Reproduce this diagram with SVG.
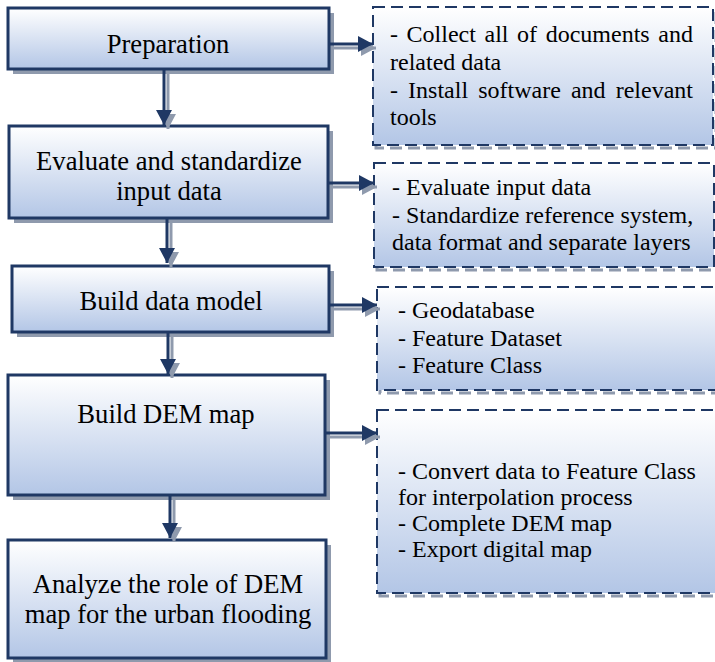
<svg xmlns="http://www.w3.org/2000/svg" width="715" height="662" viewBox="0 0 715 662">
  <defs>
    <linearGradient id="fill" x1="0" y1="0" x2="0" y2="1">
      <stop offset="0" stop-color="#ffffff"/>
      <stop offset="1" stop-color="#b3c6e6"/>
    </linearGradient>
    <marker id="head" markerUnits="userSpaceOnUse" markerWidth="15" markerHeight="16" refX="15" refY="8" orient="auto">
      <path d="M0,0 L15,8 L0,16 z" fill="#1f3864"/>
    </marker>
    <marker id="headShadow" markerUnits="userSpaceOnUse" markerWidth="15" markerHeight="16" refX="15" refY="8" orient="auto">
      <path d="M0,0 L15,8 L0,16 z" fill="#8f9aad"/>
    </marker>
  </defs>
  <style>
    .shadow { fill: #8f9aad; }
    .box { fill: url(#fill); stroke: #1f3864; stroke-width: 3; }
    .noteShadow { fill: none; stroke: #8f9aad; stroke-width: 3; stroke-dasharray: 12 6; }
    .note { fill: url(#fill); stroke: #1f3864; stroke-width: 2; stroke-dasharray: 12 6; }
    .step { font-family: "Liberation Serif", "Times New Roman", serif; font-size: 26.6px; fill: #000; text-anchor: middle; }
    .detail { font-family: "Liberation Serif", "Times New Roman", serif; font-size: 24px; fill: #000; }
    .wire { stroke: #1f3864; stroke-width: 3; fill: none; marker-end: url(#head); }
    .wireShadow { stroke: #8f9aad; stroke-width: 3; fill: none; marker-end: url(#headShadow); }
  </style>

  <!-- process steps -->
  <g id="preparation">
    <rect class="shadow" x="13" y="13" width="321" height="61"/>
    <rect class="box" x="8" y="8" width="321" height="61"/>
    <text class="step" x="168" y="53">Preparation</text>
  </g>
  <g id="evaluate">
    <rect class="shadow" x="14" y="131" width="319" height="92"/>
    <rect class="box" x="9" y="126" width="319" height="92"/>
    <text class="step" x="169" y="170">Evaluate and standardize</text>
    <text class="step" x="169" y="200">input data</text>
  </g>
  <g id="data-model">
    <rect class="shadow" x="17" y="271" width="317" height="66"/>
    <rect class="box" x="12" y="266" width="317" height="66"/>
    <text class="step" x="171" y="310">Build data model</text>
  </g>
  <g id="dem-map">
    <rect class="shadow" x="13" y="380" width="317" height="120"/>
    <rect class="box" x="8" y="375" width="317" height="120"/>
    <text class="step" x="166" y="423">Build DEM map</text>
  </g>
  <g id="analyze">
    <rect class="shadow" x="13" y="545" width="318" height="118"/>
    <rect class="box" x="8" y="540" width="318" height="118"/>
    <text class="step" x="168" y="593">Analyze the role of DEM</text>
    <text class="step" x="168" y="623">map for the urban flooding</text>
  </g>

  <!-- detail notes -->
  <g id="note-preparation">
    <rect class="noteShadow" x="376" y="10" width="340" height="138"/>
    <rect class="note" x="373" y="7" width="340" height="138"/>
    <text class="detail" x="390" y="42" word-spacing="2.6">- Collect all of documents and</text>
    <text class="detail" x="390" y="70">related data</text>
    <text class="detail" x="390" y="98" word-spacing="4.1">- Install software and relevant</text>
    <text class="detail" x="390" y="125">tools</text>
  </g>
  <g id="note-evaluate">
    <rect class="noteShadow" x="377" y="166" width="340" height="104"/>
    <rect class="note" x="374" y="163" width="340" height="104"/>
    <text class="detail" x="392" y="195">- Evaluate input data</text>
    <text class="detail" x="392" y="223">- Standardize reference system,</text>
    <text class="detail" x="392" y="250">data format and separate layers</text>
  </g>
  <g id="note-data-model">
    <rect class="noteShadow" x="380" y="290" width="345" height="103"/>
    <rect class="note" x="377" y="287" width="345" height="103"/>
    <text class="detail" x="398" y="318">- Geodatabase</text>
    <text class="detail" x="398" y="346">- Feature Dataset</text>
    <text class="detail" x="398" y="373">- Feature Class</text>
  </g>
  <g id="note-dem-map">
    <rect class="noteShadow" x="380" y="413" width="345" height="183"/>
    <rect class="note" x="377" y="410" width="345" height="183"/>
    <text class="detail" x="398" y="479">- Convert data to Feature Class</text>
    <text class="detail" x="398" y="505">for interpolation process</text>
    <text class="detail" x="398" y="531">- Complete DEM map</text>
    <text class="detail" x="398" y="557">- Export digital map</text>
  </g>

  <!-- connectors -->
  <g id="connectors">
    <line class="wireShadow" x1="168" y1="72" x2="168" y2="129"/>
    <line class="wire" x1="164" y1="69" x2="164" y2="125"/>
    <line class="wireShadow" x1="331" y1="48" x2="376" y2="48"/>
    <line class="wire" x1="329" y1="44" x2="373" y2="44"/>
    <line class="wireShadow" x1="330" y1="187" x2="377" y2="187"/>
    <line class="wire" x1="328" y1="183" x2="374" y2="183"/>
    <line class="wireShadow" x1="171" y1="221" x2="171" y2="267"/>
    <line class="wire" x1="167" y1="218" x2="167" y2="263"/>
    <line class="wireShadow" x1="331" y1="309" x2="380" y2="309"/>
    <line class="wire" x1="329" y1="305" x2="377" y2="305"/>
    <line class="wireShadow" x1="172" y1="335" x2="172" y2="378"/>
    <line class="wire" x1="168" y1="332" x2="168" y2="374"/>
    <line class="wireShadow" x1="327" y1="437" x2="380" y2="437"/>
    <line class="wire" x1="325" y1="433" x2="377" y2="433"/>
    <line class="wireShadow" x1="174" y1="498" x2="174" y2="542"/>
    <line class="wire" x1="170" y1="495" x2="170" y2="538"/>
  </g>
</svg>
